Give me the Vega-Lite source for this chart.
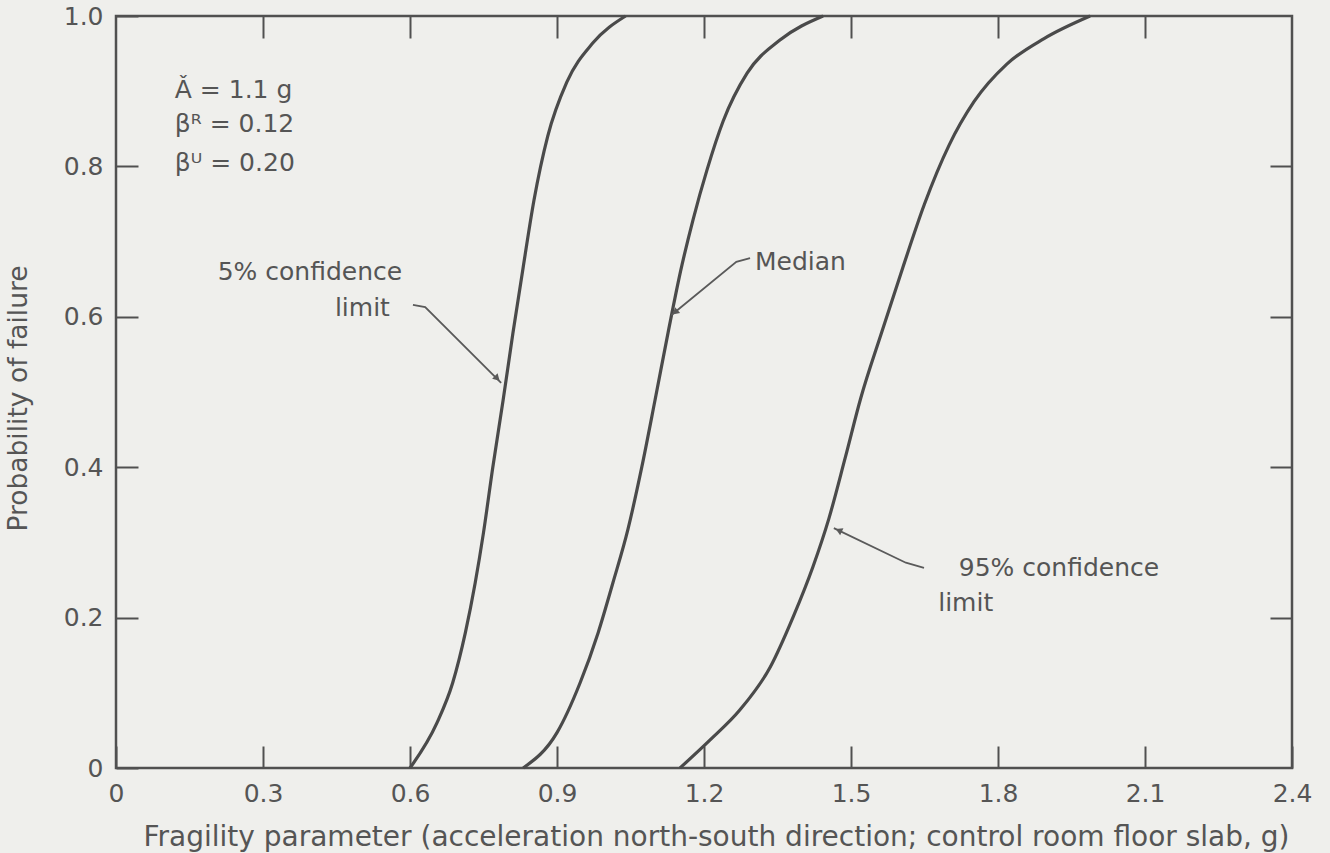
{
  "$schema": "https://vega.github.io/schema/vega-lite/v6.json",
  "width": 1176,
  "height": 752,
  "autosize": {"type": "none"},
  "padding": {"left": 116, "top": 16, "right": 38, "bottom": 85},
  "background": "#efefec",
  "config": {
    "view": {"stroke": "#505050", "strokeWidth": 2.5},
    "font": "DejaVu Sans",
    "axis": {
      "grid": false,
      "domain": false,
      "tickColor": "#505050",
      "tickWidth": 2,
      "tickSize": -22,
      "labelFont": "DejaVu Sans",
      "labelFontSize": 25,
      "labelColor": "#555555",
      "titleFont": "DejaVu Sans",
      "titleFontSize": 26.5,
      "titleFontWeight": "normal",
      "titleColor": "#555555"
    }
  },
  "datasets": {
    "curves": [
      {"curve": "5%", "x": 0.600, "y": 0.000},
      {"curve": "5%", "x": 0.655, "y": 0.060},
      {"curve": "5%", "x": 0.687, "y": 0.113},
      {"curve": "5%", "x": 0.713, "y": 0.180},
      {"curve": "5%", "x": 0.733, "y": 0.246},
      {"curve": "5%", "x": 0.750, "y": 0.313},
      {"curve": "5%", "x": 0.769, "y": 0.400},
      {"curve": "5%", "x": 0.790, "y": 0.489},
      {"curve": "5%", "x": 0.810, "y": 0.578},
      {"curve": "5%", "x": 0.831, "y": 0.666},
      {"curve": "5%", "x": 0.853, "y": 0.755},
      {"curve": "5%", "x": 0.881, "y": 0.840},
      {"curve": "5%", "x": 0.920, "y": 0.912},
      {"curve": "5%", "x": 0.973, "y": 0.964},
      {"curve": "5%", "x": 1.040, "y": 1.000},
      {"curve": "Median", "x": 0.831, "y": 0.000},
      {"curve": "Median", "x": 0.900, "y": 0.047},
      {"curve": "Median", "x": 0.947, "y": 0.113},
      {"curve": "Median", "x": 0.984, "y": 0.180},
      {"curve": "Median", "x": 1.014, "y": 0.246},
      {"curve": "Median", "x": 1.045, "y": 0.318},
      {"curve": "Median", "x": 1.073, "y": 0.400},
      {"curve": "Median", "x": 1.100, "y": 0.489},
      {"curve": "Median", "x": 1.127, "y": 0.580},
      {"curve": "Median", "x": 1.152, "y": 0.660},
      {"curve": "Median", "x": 1.178, "y": 0.730},
      {"curve": "Median", "x": 1.206, "y": 0.795},
      {"curve": "Median", "x": 1.239, "y": 0.860},
      {"curve": "Median", "x": 1.288, "y": 0.924},
      {"curve": "Median", "x": 1.355, "y": 0.968},
      {"curve": "Median", "x": 1.443, "y": 1.000},
      {"curve": "95%", "x": 1.151, "y": 0.000},
      {"curve": "95%", "x": 1.212, "y": 0.037},
      {"curve": "95%", "x": 1.273, "y": 0.077},
      {"curve": "95%", "x": 1.335, "y": 0.134},
      {"curve": "95%", "x": 1.382, "y": 0.201},
      {"curve": "95%", "x": 1.422, "y": 0.267},
      {"curve": "95%", "x": 1.455, "y": 0.332},
      {"curve": "95%", "x": 1.488, "y": 0.412},
      {"curve": "95%", "x": 1.520, "y": 0.492},
      {"curve": "95%", "x": 1.563, "y": 0.580},
      {"curve": "95%", "x": 1.606, "y": 0.666},
      {"curve": "95%", "x": 1.650, "y": 0.750},
      {"curve": "95%", "x": 1.700, "y": 0.828},
      {"curve": "95%", "x": 1.751, "y": 0.886},
      {"curve": "95%", "x": 1.818, "y": 0.936},
      {"curve": "95%", "x": 1.894, "y": 0.970},
      {"curve": "95%", "x": 1.988, "y": 1.000}
    ],
    "leaders": [
      {"arrow": "5%", "step": 1, "x": 0.606, "y": 0.616},
      {"arrow": "5%", "step": 2, "x": 0.631, "y": 0.613},
      {"arrow": "5%", "step": 3, "x": 0.786, "y": 0.512},
      {"arrow": "Median", "step": 1, "x": 1.294, "y": 0.678},
      {"arrow": "Median", "step": 2, "x": 1.266, "y": 0.673},
      {"arrow": "Median", "step": 3, "x": 1.133, "y": 0.602},
      {"arrow": "95%", "step": 1, "x": 1.649, "y": 0.266},
      {"arrow": "95%", "step": 2, "x": 1.612, "y": 0.273},
      {"arrow": "95%", "step": 3, "x": 1.465, "y": 0.319}
    ],
    "tips": [
      {"arrow": "5%", "x": 0.778, "y": 0.518},
      {"arrow": "Median", "x": 1.141, "y": 0.606},
      {"arrow": "95%", "x": 1.475, "y": 0.316}
    ],
    "notesLeft": [
      {"label": "Ǎ = 1.1 g", "x": 0.120, "y": 0.902},
      {"label": "βᴿ = 0.12", "x": 0.120, "y": 0.857},
      {"label": "βᵁ = 0.20", "x": 0.120, "y": 0.804},
      {"label": "Median", "x": 1.304, "y": 0.673},
      {"label": "95% confidence", "x": 1.720, "y": 0.266},
      {"label": "limit", "x": 1.678, "y": 0.219}
    ],
    "notesRight": [
      {"label": "5% confidence", "x": 0.584, "y": 0.660},
      {"label": "limit", "x": 0.559, "y": 0.612}
    ]
  },
  "layer": [
    {
      "data": {"name": "curves"},
      "mark": {"type": "line", "color": "#4a4a4a", "strokeWidth": 3.2, "interpolate": "monotone"},
      "encoding": {
        "x": {
          "field": "x", "type": "quantitative",
          "scale": {"domain": [0, 2.4], "nice": false, "zero": false},
          "axis": {
            "orient": "bottom",
            "values": [0, 0.3, 0.6, 0.9, 1.2, 1.5, 1.8, 2.1, 2.4],
            "labelExpr": "datum.value == 0 ? '0' : format(datum.value, '.1f')",
            "labelPadding": 47,
            "labelBaseline": "middle",
            "labelFlush": false,
            "title": "Fragility parameter (acceleration north-south direction; control room floor  slab, g)",
            "titleFontSize": 28,
            "titleBaseline": "middle",
            "titleX": 600,
            "titleY": 69
          }
        },
        "y": {
          "field": "y", "type": "quantitative",
          "scale": {"domain": [0, 1], "nice": false},
          "axis": {
            "orient": "left",
            "values": [0, 0.2, 0.4, 0.6, 0.8, 1.0],
            "labelExpr": "datum.value == 0 ? '0' : format(datum.value, '.1f')",
            "labelPadding": 35,
            "labelFlush": false,
            "title": "Probability of failure",
            "titleBaseline": "middle",
            "titleX": -98,
            "titleY": 382
          }
        },
        "detail": {"field": "curve"}
      }
    },
    {
      "data": {"name": "curves"},
      "mark": {"type": "point", "opacity": 0},
      "encoding": {
        "x": {
          "field": "x", "type": "quantitative",
          "scale": {"domain": [0, 2.4], "nice": false, "zero": false},
          "axis": {"orient": "top", "values": [0.3, 0.6, 0.9, 1.2, 1.5, 1.8, 2.1], "labels": false, "title": null}
        },
        "y": {
          "field": "y", "type": "quantitative",
          "scale": {"domain": [0, 1], "nice": false},
          "axis": {"orient": "right", "values": [0.2, 0.4, 0.6, 0.8], "labels": false, "title": null}
        }
      }
    },
    {
      "data": {"name": "leaders"},
      "mark": {"type": "line", "color": "#5a5a5a", "strokeWidth": 1.8},
      "encoding": {
        "x": {"field": "x", "type": "quantitative", "axis": null},
        "y": {"field": "y", "type": "quantitative", "axis": null},
        "detail": {"field": "arrow"},
        "order": {"field": "step"}
      }
    },
    {
      "data": {"name": "tips"},
      "transform": [{"filter": "datum.arrow == '5%'"}],
      "mark": {"type": "point", "shape": "triangle-up", "filled": true, "color": "#5a5a5a", "size": 60, "angle": 135, "opacity": 1},
      "encoding": {"x": {"field": "x", "type": "quantitative", "axis": null}, "y": {"field": "y", "type": "quantitative", "axis": null}}
    },
    {
      "data": {"name": "tips"},
      "transform": [{"filter": "datum.arrow == 'Median'"}],
      "mark": {"type": "point", "shape": "triangle-up", "filled": true, "color": "#5a5a5a", "size": 60, "angle": 229, "opacity": 1},
      "encoding": {"x": {"field": "x", "type": "quantitative", "axis": null}, "y": {"field": "y", "type": "quantitative", "axis": null}}
    },
    {
      "data": {"name": "tips"},
      "transform": [{"filter": "datum.arrow == '95%'"}],
      "mark": {"type": "point", "shape": "triangle-up", "filled": true, "color": "#5a5a5a", "size": 60, "angle": 295, "opacity": 1},
      "encoding": {"x": {"field": "x", "type": "quantitative", "axis": null}, "y": {"field": "y", "type": "quantitative", "axis": null}}
    },
    {
      "data": {"name": "notesLeft"},
      "mark": {"type": "text", "align": "left", "baseline": "middle", "font": "DejaVu Sans", "fontSize": 25, "color": "#555555"},
      "encoding": {
        "x": {"field": "x", "type": "quantitative", "axis": null},
        "y": {"field": "y", "type": "quantitative", "axis": null},
        "text": {"field": "label"}
      }
    },
    {
      "data": {"name": "notesRight"},
      "mark": {"type": "text", "align": "right", "baseline": "middle", "font": "DejaVu Sans", "fontSize": 25, "color": "#555555"},
      "encoding": {
        "x": {"field": "x", "type": "quantitative", "axis": null},
        "y": {"field": "y", "type": "quantitative", "axis": null},
        "text": {"field": "label"}
      }
    }
  ],
  "resolve": {"axis": {"x": "independent", "y": "independent"}}
}
